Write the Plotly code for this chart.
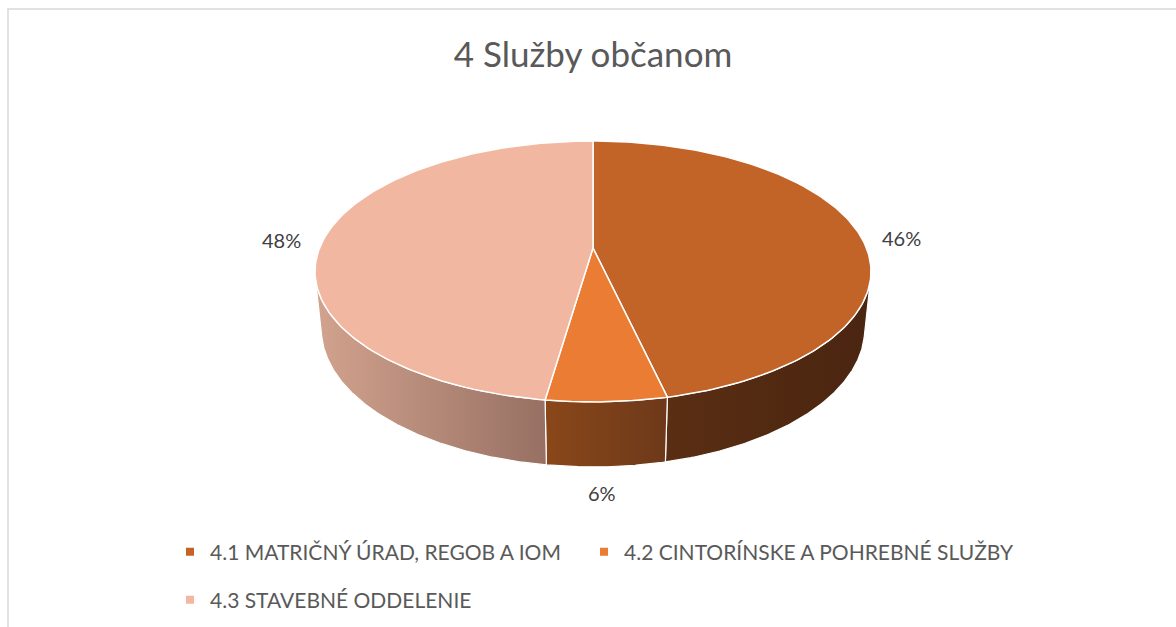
import numpy as np
import plotly.graph_objects as go

# ---- data ----
categories = ["4.1 MATRIČNÝ ÚRAD, REGOB A IOM",
              "4.2 CINTORÍNSKE A POHREBNÉ SLUŽBY",
              "4.3 STAVEBNÉ ODDELENIE"]
values = [46.4, 5.9, 47.7]
title_text = "4 Služby občanom"

# ---- style ----
top_colors = ["#C26428", "#EA7D33", "#F2B7A0"]
wall_colors = [("#5A2E13", "#4A2510"), ("#8A4719", "#6D391A"), ("#D2A38E", "#977063")]
FONT = "Lato"
W, H = 1176, 627

# simple perspective camera for the 3D pie
cx, cy = 593.0, 248.0
F = 1348.0
dist = 4.93
sa = 0.4617
ca = float(np.sqrt(1 - sa * sa))
depth_h = 0.24


def proj(x, y, z):
    d = y * ca - z * sa + dist
    return cx + F * x / d, cy - F * (y * sa + z * ca) / d


def arc(t0, t1, z, r=1.0, n=160):
    t = np.radians(np.linspace(t0, t1, n))
    return [proj(r * np.sin(a), r * np.cos(a), z) for a in t]


total = float(sum(values))
bounds = np.concatenate([[0], np.cumsum(values)]) / total * 360.0
theta_s = float(np.degrees(np.arccos(-1.0 / (dist * ca))))

fig = go.Figure()

# side walls
for i in range(len(values)):
    a = max(bounds[i], theta_s)
    b = min(bounds[i + 1], 360 - theta_s)
    if a >= b:
        continue
    pts = arc(a, b, 0.0) + arc(b, a, -depth_h)
    pts.append(pts[0])
    xs, ys = zip(*pts)
    fig.add_trace(go.Scatter(
        x=xs, y=ys, mode="lines", fill="toself",
        line=dict(color="white", width=1.2),
        fillgradient=dict(type="horizontal",
                          colorscale=[[0, wall_colors[i][0]], [1, wall_colors[i][1]]]),
        hoverinfo="skip", showlegend=False))

# top faces
for i in range(len(values)):
    pts = [proj(0, 0, 0)] + arc(bounds[i], bounds[i + 1], 0.0) + [proj(0, 0, 0)]
    xs, ys = zip(*pts)
    fig.add_trace(go.Scatter(
        x=xs, y=ys, mode="lines", fill="toself", fillcolor=top_colors[i],
        line=dict(color="white", width=1.5),
        hoverinfo="text", text=f"{categories[i]}: {values[i]}", showlegend=False))

# legend entries (one legend per entry for exact placement)
legend_names = ["legend", "legend2", "legend3"]
for i, cat in enumerate(categories):
    fig.add_trace(go.Scatter(
        x=[None], y=[None], mode="markers", name=cat,
        marker=dict(symbol="square", size=8, color=top_colors[i]),
        legend=legend_names[i]))

# data labels
annotations = []
for i, v in enumerate(values):
    mid = np.radians((bounds[i] + bounds[i + 1]) / 2)
    front = np.cos(mid) < -0.5
    z = -depth_h if front else 0.0
    lx, ly = proj(1.08 * np.sin(mid), 1.08 * np.cos(mid), z)
    if front:
        xa, ya, ys_, xs_ = "center", "top", 4, -6
    elif np.sin(mid) >= 0:
        xa, ya, ys_, xs_ = "left", "middle", -5, 0
    else:
        xa, ya, ys_, xs_ = "right", "middle", -2, 0
    annotations.append(dict(
        x=lx, y=ly, xref="x", yref="y", text=f"{round(v / total * 100)}%",
        showarrow=False, xanchor=xa, yanchor=ya, yshift=ys_, xshift=xs_,
        font=dict(family=FONT, size=20, color="#404040")))

leg_font = dict(family=FONT, size=21, color="#595959")
leg_pos = [(170, 552), (584, 552), (170, 600)]
leg_layout = {}
for name, (px, py) in zip(legend_names, leg_pos):
    leg_layout[name] = dict(orientation="h", x=px / W, xanchor="left", y=1 - py / H,
                            yanchor="middle", font=leg_font, bgcolor="rgba(0,0,0,0)")

fig.update_layout(
    width=W, height=H, autosize=False,
    margin=dict(l=0, r=0, t=0, b=0),
    paper_bgcolor="white", plot_bgcolor="white",
    title=dict(text=title_text, x=593 / W, xanchor="center", y=1 - 55 / H, yanchor="middle",
               font=dict(family=FONT, size=35, color="#595959")),
    xaxis=dict(range=[0, W], visible=False, fixedrange=True),
    yaxis=dict(range=[H, 0], visible=False, fixedrange=True),
    showlegend=True,
    annotations=annotations,
    shapes=[dict(type="rect", xref="x", yref="y", x0=8, y0=9, x1=W + 20, y1=H + 20,
                 line=dict(color="#D9D9D9", width=1.5), layer="below")],
    **leg_layout,
)

fig.write_html("out.html", config={"displayModeBar": False},
               post_script="document.body.style.margin='0';")
